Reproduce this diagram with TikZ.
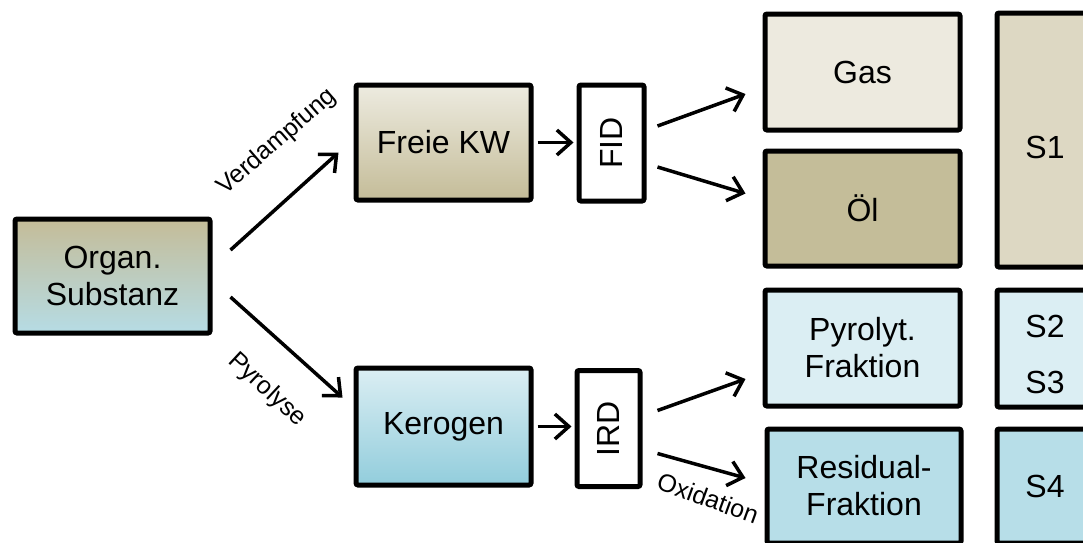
\documentclass[tikz,border=0pt]{standalone}
\usepackage{fontspec}
\setmainfont{Liberation Sans}
\usetikzlibrary{arrows.meta}
\definecolor{orgtop}{RGB}{196,188,152}
\definecolor{orgbot}{RGB}{182,220,229}
\definecolor{fkwtop}{RGB}{237,235,224}
\definecolor{fkwbot}{RGB}{196,188,152}
\definecolor{gasc}{RGB}{237,234,223}
\definecolor{oelc}{RGB}{196,189,153}
\definecolor{sonec}{RGB}{221,216,195}
\definecolor{pyrc}{RGB}{219,238,243}
\definecolor{resc}{RGB}{183,222,232}
\definecolor{kertop}{RGB}{219,238,243}
\definecolor{kerbot}{RGB}{146,205,220}
\begin{document}
\begin{tikzpicture}[x=1pt,y=-1pt,
  box/.style={draw=black, line width=5pt, rounded corners=2pt, inner sep=0pt,
    align=center, font=\fontsize{32}{37}\selectfont},
  arr/.style={line width=3.5pt, -{Straight Barb[length=14pt,width=25pt,line width=3.5pt]}},
  lbl/.style={font=\fontsize{25}{29}\selectfont, inner sep=0pt}]
\useasboundingbox (0,0) rectangle (1083,542);
\clip (0,0) rectangle (1083,542);
\fill[white] (0,0) rectangle (1083,542);
% left
\node[box, minimum width=195pt, minimum height=114pt, top color=orgtop, bottom color=orgbot] (org) at (112.5,276) {Organ.\\Substanz};
\node[box, minimum width=175pt, minimum height=115pt, top color=fkwtop, bottom color=fkwbot] (fkw) at (443.5,142.5) {Freie KW};
\node[box, minimum width=175pt, minimum height=117pt, top color=kertop, bottom color=kerbot] (ker) at (443.5,426.5) {Kerogen};
\node[box, fill=white, minimum width=65pt, minimum height=116pt] (fid) at (611.5,143) {\rotatebox{90}{FID}};
\node[box, fill=white, minimum width=63pt, minimum height=116pt] (ird) at (608.5,428.5) {\rotatebox{90}{IRD}};
% right column
\node[box, fill=gasc, minimum width=195pt, minimum height=116pt] (gas) at (862.5,72) {Gas};
\node[box, fill=oelc, minimum width=195pt, minimum height=115pt] (oel) at (862.5,208.5) {Öl};
\node[box, fill=pyrc, minimum width=195pt, minimum height=116pt] (pyr) at (862.5,348) {Pyrolyt.\\Fraktion};
\node[box, fill=resc, minimum width=194pt, minimum height=114pt] (res) at (864,486) {Residual-\\Fraktion};
\node[box, fill=sonec, minimum width=96pt, minimum height=254pt] (s1) at (1045,140) {\raisebox{-7pt}[\height][\depth]{S1}};
\node[box, fill=pyrc, minimum width=96pt, minimum height=117pt] (s23) at (1045,348.5) {\raisebox{-10pt}[\height][\depth]{\begin{tabular}{@{}c@{}}S2\\[19pt]S3\end{tabular}}};
\node[box, fill=resc, minimum width=96pt, minimum height=114pt] (s4) at (1045,486) {S4};
% arrows
\draw[arr] ([xshift=18pt,yshift=26pt]org.east) -- ([xshift=-15pt,yshift=-10pt]fkw.west);
\draw[arr] ([xshift=18pt,yshift=-21pt]org.east) -- ([xshift=-11pt,yshift=29pt]ker.west);
\draw[arr] ([xshift=4pt]fkw.east) -- ([xshift=-3pt]fkw.east -| fid.west);
\draw[arr] ([xshift=4pt]ker.east) -- ([xshift=-3pt]ker.east -| ird.west);
\draw[arr] ([xshift=11pt,yshift=17pt]fid.east) -- ([xshift=-17pt,yshift=-22pt]gas.west);
\draw[arr] ([xshift=11pt,yshift=-24pt]fid.east) -- ([xshift=-17pt,yshift=15pt]oel.west);
\draw[arr] ([xshift=15pt,yshift=18pt]ird.east) -- ([xshift=-17pt,yshift=-31pt]pyr.west);
\draw[arr] ([xshift=15pt,yshift=-25pt]ird.east) -- ([xshift=-19pt,yshift=8pt]res.west);
% labels
\node[lbl, rotate=41] (lverd) at (277,142) {Verdampfung};
\node[lbl, rotate=-43] (lpyr) at (267,390) {Pyrolyse};
\node[lbl, rotate=-20] (loxi) at (708,498) {Oxidation};
\end{tikzpicture}
\end{document}
